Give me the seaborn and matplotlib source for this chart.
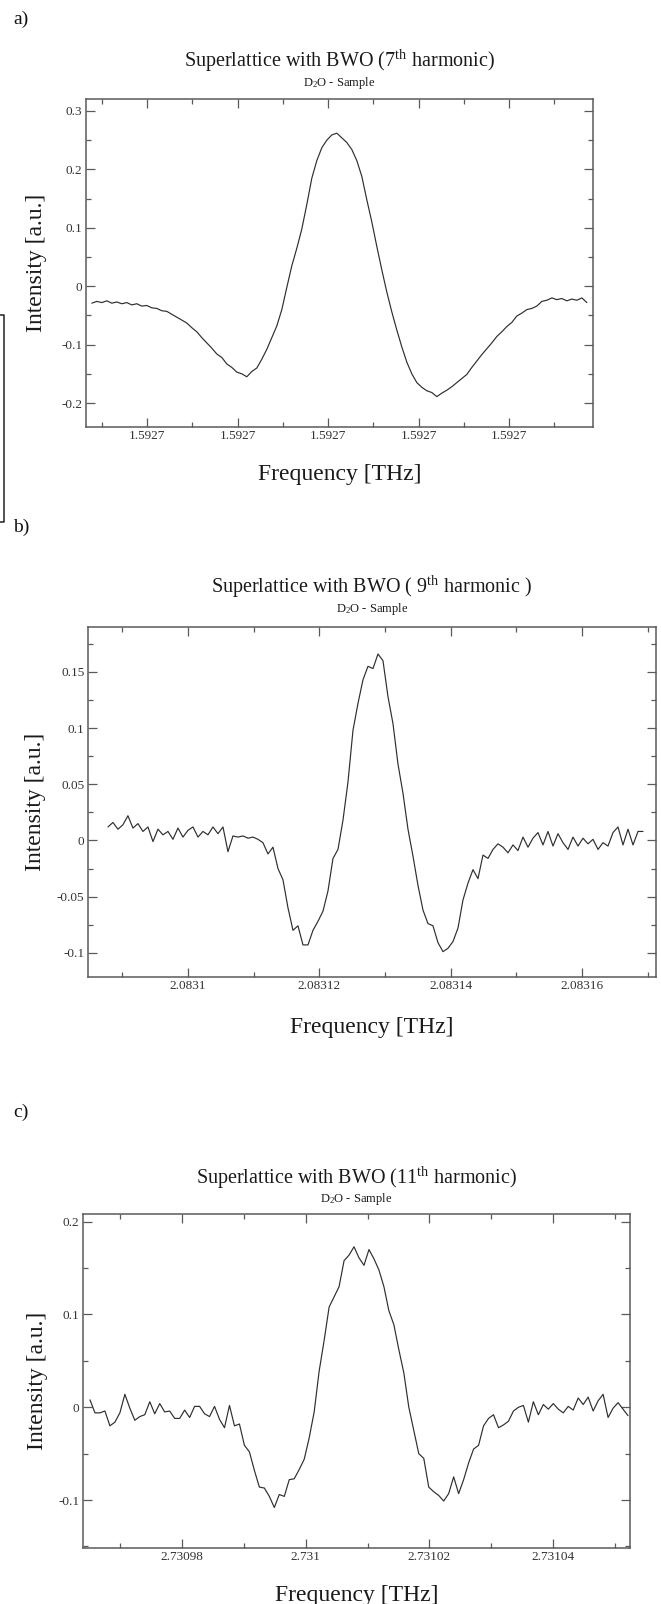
import numpy as np
import pandas as pd
import matplotlib
matplotlib.use("Agg")
import matplotlib.pyplot as plt
import seaborn as sns
from matplotlib.ticker import FixedLocator, FuncFormatter
from matplotlib.lines import Line2D

# ------------------------------------------------------------------ data
PANEL_LABELS = ["a)", "b)", "c)"]
TITLES = [r"Superlattice with BWO (7$^{\mathrm{th}}$ harmonic)",
          r"Superlattice with BWO ( 9$^{\mathrm{th}}$ harmonic )",
          r"Superlattice with BWO (11$^{\mathrm{th}}$ harmonic)"]
SUBTITLE = r"D$_{\mathrm{2}}$O - Sample"
XLABEL = "Frequency [THz]"
YLABEL = "Intensity [a.u.]"

# panel a : 7th harmonic (frequency = base + offset[MHz] * 1e-6 THz)
A_BASE_THZ = 1.5927
A_SWEEP_MHZ = (-1.22, 9.72)
A_INTENSITY = [
    -0.029, -0.026, -0.028, -0.025, -0.029, -0.027, -0.030, -0.028, -0.032, -0.030,
    -0.034, -0.033, -0.037, -0.038, -0.042, -0.043, -0.048, -0.053, -0.058, -0.063,
    -0.071, -0.078, -0.088, -0.097, -0.106, -0.116, -0.122, -0.133, -0.139, -0.147,
    -0.150, -0.155, -0.146, -0.140, -0.125, -0.108, -0.088, -0.068, -0.040, -0.002,
    0.035, 0.065, 0.098, 0.140, 0.185, 0.215, 0.237, 0.250, 0.259, 0.262,
    0.254, 0.246, 0.234, 0.215, 0.188, 0.148, 0.110, 0.068, 0.028, -0.010,
    -0.044, -0.075, -0.104, -0.130, -0.150, -0.165, -0.173, -0.179, -0.182, -0.189,
    -0.183, -0.178, -0.172, -0.165, -0.158, -0.151, -0.139, -0.128, -0.117, -0.107,
    -0.097, -0.086, -0.078, -0.069, -0.062, -0.051, -0.046, -0.040, -0.038, -0.034,
    -0.026, -0.024, -0.020, -0.023, -0.021, -0.025, -0.022, -0.024, -0.020, -0.028,
]
A_XMAJOR_MHZ = [0, 2, 4, 6, 8]
A_XMINOR_MHZ = [-1, 1, 3, 5, 7, 9]
A_YMAJOR = [-0.2, -0.1, 0.0, 0.1, 0.2, 0.3]
A_YMINOR = [-0.15, -0.05, 0.05, 0.15, 0.25]

# panel b : 9th harmonic
B_BASE_THZ = 2.0831
B_SWEEP_MHZ = (-12.19, 69.31)
B_INTENSITY = [
    0.012, 0.016, 0.010, 0.014, 0.022, 0.011, 0.015, 0.008, 0.012, -0.001,
    0.010, 0.005, 0.008, 0.001, 0.011, 0.003, 0.009, 0.012, 0.003, 0.008,
    0.005, 0.012, 0.006, 0.012, -0.010, 0.004, 0.003, 0.004, 0.002, 0.003,
    0.001, -0.002, -0.012, -0.006, -0.025, -0.035, -0.060, -0.080, -0.076, -0.093,
    -0.093, -0.080, -0.072, -0.063, -0.045, -0.016, -0.008, 0.018, 0.052, 0.098,
    0.122, 0.143, 0.155, 0.153, 0.166, 0.160, 0.128, 0.104, 0.068, 0.042,
    0.010, -0.014, -0.040, -0.062, -0.074, -0.076, -0.091, -0.099, -0.096, -0.090,
    -0.078, -0.053, -0.038, -0.026, -0.034, -0.013, -0.016, -0.008, -0.003, -0.006,
    -0.011, -0.004, -0.009, 0.003, -0.006, 0.002, 0.007, -0.004, 0.008, -0.005,
    0.006, -0.002, -0.008, 0.003, -0.005, 0.002, -0.003, 0.001, -0.008, -0.002,
    -0.005, 0.007, 0.012, -0.004, 0.010, -0.004, 0.008, 0.008,
]
B_XMAJOR_MHZ = [0, 20, 40, 60]
B_XMINOR_MHZ = [-10, 10, 30, 50, 70]
B_YMAJOR = [-0.1, -0.05, 0.0, 0.05, 0.1, 0.15]
B_YMINOR = [-0.075, -0.025, 0.025, 0.075, 0.125, 0.175]

# panel c : 11th harmonic
C_BASE_THZ = 2.73098
C_SWEEP_MHZ = (-14.88, 72.11)
C_INTENSITY = [
    0.008, -0.006, -0.006, -0.004, -0.020, -0.016, -0.006, 0.014, -0.001, -0.014,
    -0.010, -0.008, 0.006, -0.007, 0.004, -0.005, -0.004, -0.012, -0.012, -0.003,
    -0.011, 0.001, 0.001, -0.007, -0.010, 0.001, -0.013, -0.022, 0.002, -0.020,
    -0.018, -0.041, -0.048, -0.068, -0.086, -0.087, -0.096, -0.108, -0.094, -0.096,
    -0.078, -0.077, -0.067, -0.056, -0.033, -0.005, 0.039, 0.072, 0.108, 0.119,
    0.130, 0.158, 0.164, 0.173, 0.161, 0.153, 0.170, 0.160, 0.148, 0.130,
    0.104, 0.089, 0.062, 0.037, 0.000, -0.025, -0.050, -0.055, -0.086, -0.091,
    -0.095, -0.101, -0.093, -0.075, -0.093, -0.078, -0.060, -0.045, -0.041, -0.020,
    -0.012, -0.008, -0.022, -0.019, -0.015, -0.004, 0.000, 0.002, -0.016, 0.006,
    -0.008, 0.003, -0.002, 0.004, -0.002, -0.006, 0.001, -0.003, 0.010, 0.003,
    0.011, -0.004, 0.007, 0.014, -0.011, -0.001, 0.005, -0.002, -0.009,
]
C_XMAJOR_MHZ = [0, 20, 40, 60]
C_XMINOR_MHZ = [-10, 10, 30, 50, 70]
C_YMAJOR = [-0.1, 0.0, 0.1, 0.2]
C_YMINOR = [-0.15, -0.05, 0.05, 0.15]

# ------------------------------------------------------------------ style
sns.set_style("ticks")
plt.rcParams["font.family"] = ["Liberation Serif", "DejaVu Serif"]
plt.rcParams["mathtext.fontset"] = "custom"
plt.rcParams["mathtext.rm"] = "Liberation Serif"
plt.rcParams["mathtext.it"] = "Liberation Serif:italic"
plt.rcParams["axes.unicode_minus"] = False

W, H = 661, 1604
fig = plt.figure(figsize=(W / 100, H / 100), dpi=100)
fig.patch.set_facecolor("white")

SPINE = "#5a5a5a"
LINE = "#2e2e2e"

# layout (pixels): left, right, top, bottom of each plot box
LAYOUT = [
    dict(box=(86, 593, 99, 427), ylim=(-0.241, 0.3205), xlim=(-1.348, 9.856),
         fmt="%.4f", t_off=23.0, s_off=9.4, lab_y=24, ylab_x=37),
    dict(box=(88, 656, 627, 976.7), ylim=(-0.1213, 0.190), xlim=(-15.23, 71.29),
         fmt="%g", t_off=24.3, s_off=10.6, lab_y=531.5, ylab_x=36),
    dict(box=(83, 630, 1214, 1547.7), ylim=(-0.1513, 0.2083), xlim=(-16.01, 72.43),
         fmt="%g", t_off=21.6, s_off=8.9, lab_y=1116.7, ylab_x=37),
]

PANELS = [
    (A_BASE_THZ, A_SWEEP_MHZ, A_INTENSITY, A_XMAJOR_MHZ, A_XMINOR_MHZ, A_YMAJOR, A_YMINOR),
    (B_BASE_THZ, B_SWEEP_MHZ, B_INTENSITY, B_XMAJOR_MHZ, B_XMINOR_MHZ, B_YMAJOR, B_YMINOR),
    (C_BASE_THZ, C_SWEEP_MHZ, C_INTENSITY, C_XMAJOR_MHZ, C_XMINOR_MHZ, C_YMAJOR, C_YMINOR),
]

for i, ((base, sweep, inten, xmaj, xmin, ymaj, ymin), lay) in enumerate(zip(PANELS, LAYOUT)):
    l, r, t, b = lay["box"]
    ax = fig.add_axes([l / W, 1 - b / H, (r - l) / W, (b - t) / H])
    freq = base + np.linspace(sweep[0], sweep[1], len(inten)) * 1e-6
    df = pd.DataFrame({"freq": freq, "intensity": inten})
    sns.lineplot(data=df, x="freq", y="intensity", ax=ax, color=LINE,
                 linewidth=0.85, estimator=None, sort=False, errorbar=None)

    ax.set_xlim(base + lay["xlim"][0] * 1e-6, base + lay["xlim"][1] * 1e-6)
    ax.set_ylim(*lay["ylim"])

    ax.xaxis.set_major_locator(FixedLocator([base + v * 1e-6 for v in xmaj]))
    ax.xaxis.set_minor_locator(FixedLocator([base + v * 1e-6 for v in xmin]))
    ax.yaxis.set_major_locator(FixedLocator(ymaj))
    ax.yaxis.set_minor_locator(FixedLocator(ymin))
    fmt = lay["fmt"]
    ax.xaxis.set_major_formatter(FuncFormatter(lambda v, p, f=fmt: f % v))
    ax.yaxis.set_major_formatter(FuncFormatter(lambda v, p: f"{round(v, 6):g}"))

    ax.tick_params(axis="both", which="both", direction="in", top=True, right=True,
                   color=SPINE, labelcolor="#333333", labelsize=9.5)
    ax.tick_params(which="major", length=6.5, width=0.9)
    ax.tick_params(which="minor", length=3.4, width=0.9)
    ax.tick_params(axis="x", which="major", pad=2.2)
    ax.tick_params(axis="y", which="major", pad=2.7)
    for s in ax.spines.values():
        s.set_color(SPINE)
        s.set_linewidth(1.1)

    ax.set_xlabel(XLABEL, fontsize=17, color="#1a1a1a", va="baseline")
    ax.xaxis.set_label_coords(0.5, -{0: 53, 1: 56, 2: 53}[i] / (b - t))
    ax.set_ylabel(YLABEL, fontsize=17, color="#1a1a1a", va="center")
    ax.yaxis.set_label_coords((lay["ylab_x"] - l) / (r - l), 0.5)

    ax.annotate(TITLES[i], xy=(0.5, 1), xycoords="axes fraction",
                xytext=(0, lay["t_off"]), textcoords="offset points",
                ha="center", va="baseline", fontsize=14.5, color="#1a1a1a")
    ax.annotate(SUBTITLE, xy=(0.5, 1), xycoords="axes fraction",
                xytext=(0, lay["s_off"]), textcoords="offset points",
                ha="center", va="baseline", fontsize=9, color="#1a1a1a")

    fig.text(13 / W, 1 - lay["lab_y"] / H, PANEL_LABELS[i], fontsize=14,
             ha="left", va="baseline", color="#111111")

# bracket fragment at the left edge (from the source page)
fig.add_artist(Line2D([0 / W, 4 / W, 4 / W, 0 / W],
                      [1 - 315 / H, 1 - 315 / H, 1 - 522 / H, 1 - 522 / H],
                      transform=fig.transFigure, color="#222222", linewidth=1.1))

fig.savefig("out.png", dpi=100, facecolor="white")
